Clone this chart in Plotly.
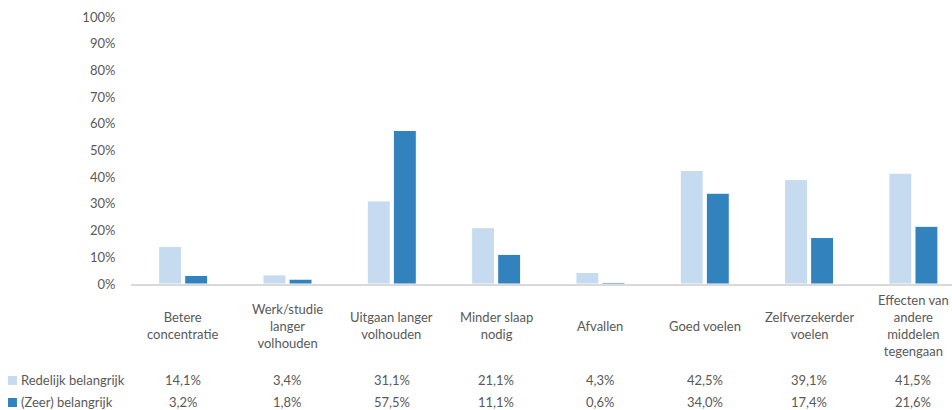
import plotly.graph_objects as go

categories = [
    "Betere<br>concentratie",
    "Werk/studie<br>langer<br>volhouden",
    "Uitgaan langer<br>volhouden",
    "Minder slaap<br>nodig",
    "Afvallen",
    "Goed voelen",
    "Zelfverzekerder<br>voelen",
    "Effecten van<br>andere<br>middelen<br>tegengaan",
]
series_names = ["Redelijk belangrijk", "(Zeer) belangrijk"]
redelijk = [14.1, 3.4, 31.1, 21.1, 4.3, 42.5, 39.1, 41.5]
zeer = [3.2, 1.8, 57.5, 11.1, 0.6, 34.0, 17.4, 21.6]
colors = ["#C6DBEF", "#3182BD"]
y_ticks = [0, 10, 20, 30, 40, 50, 60, 70, 80, 90, 100]

FONT = "Lato"
GRAY = "#595959"
xs = list(range(len(categories)))

fig = go.Figure()
for name, vals, col in zip(series_names, [redelijk, zeer], colors):
    fig.add_trace(go.Bar(
        x=xs, y=vals, name=name,
        marker=dict(color=col, line=dict(color="white", width=1)),
        showlegend=False,
    ))

def fmt(v):
    return f"{v:.1f}%".replace(".", ",")

annotations = []
for i, cat in enumerate(categories):
    annotations.append(dict(x=i, y=-0.157, xref="x", yref="paper", text=cat,
                            showarrow=False, xanchor="center", yanchor="middle",
                            align="center", font=dict(family=FONT, size=13, color=GRAY)))

row_y = [-0.36, -0.443]
key_y = [(-0.3446, -0.378), (-0.427, -0.4607)]
shapes = []
for r, (name, vals, col) in enumerate(zip(series_names, [redelijk, zeer], colors)):
    for i, v in enumerate(vals):
        annotations.append(dict(x=i, y=row_y[r], xref="x", yref="paper", text=fmt(v),
                                showarrow=False, xanchor="center", yanchor="middle",
                                font=dict(family=FONT, size=13, color=GRAY)))
    annotations.append(dict(x=-0.1365, y=row_y[r], xref="paper", yref="paper",
                            text=name, showarrow=False, xanchor="left", yanchor="middle",
                            font=dict(family=FONT, size=13, color=GRAY)))
    shapes.append(dict(type="rect", xref="paper", yref="paper",
                       x0=-0.1498, x1=-0.1389, y0=key_y[r][0], y1=key_y[r][1],
                       fillcolor=col, line=dict(width=0)))

fig.update_layout(
    width=952, height=410,
    margin=dict(l=131, r=0, t=17, b=126),
    paper_bgcolor="white", plot_bgcolor="white",
    barmode="group", bargap=0.5, bargroupgap=0.12,
    xaxis=dict(range=[-0.5, 7.37], showticklabels=False, showgrid=False,
               zeroline=False, showline=True, linecolor="#D9D9D9", linewidth=1.5,
               ticks=""),
    yaxis=dict(range=[0, 100], tickvals=y_ticks,
               ticktext=[f"{t}%" for t in y_ticks], showgrid=False, zeroline=False,
               showline=False, ticks="outside", ticklen=12, tickcolor="rgba(0,0,0,0)",
               tickfont=dict(family=FONT, size=13, color=GRAY)),
    annotations=annotations,
    shapes=shapes,
)

fig.write_html("out.html", config={"displayModeBar": False},
               post_script="document.body.style.margin='0';document.body.style.overflow='hidden';")
